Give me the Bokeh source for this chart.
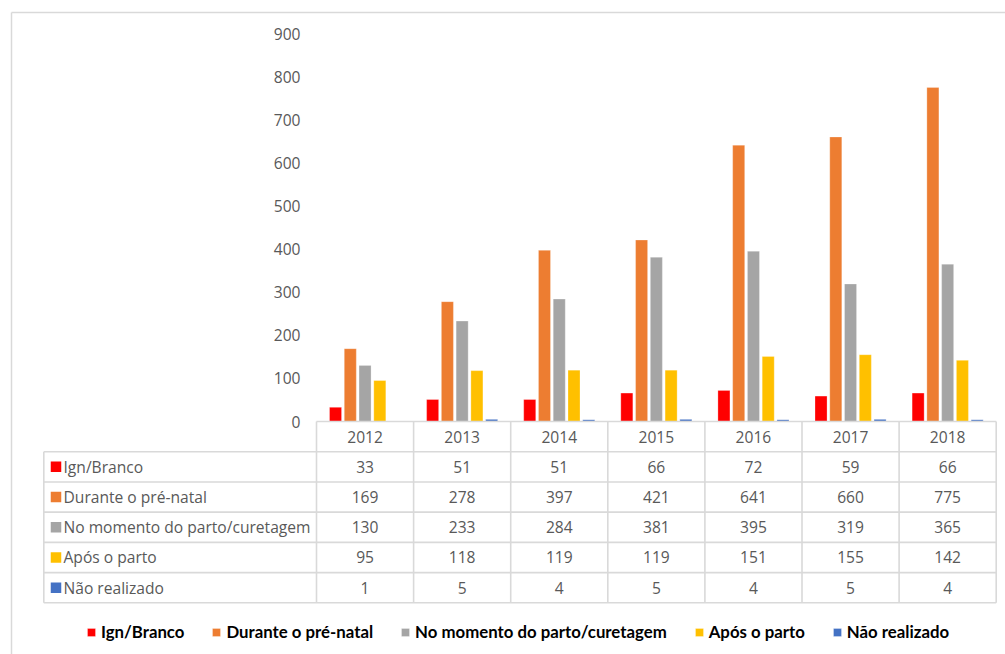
from bokeh.plotting import figure
from bokeh.models import Range1d, Legend, LegendItem
from bokeh.core.properties import value
from bokeh.embed import file_html
from bokeh.resources import INLINE

# ---------------- data ----------------
years = ["2012", "2013", "2014", "2015", "2016", "2017", "2018"]
series_names = ["Ign/Branco", "Durante o pré-natal", "No momento do parto/curetagem",
                "Após o parto", "Não realizado"]
ign_branco = [33, 51, 51, 66, 72, 59, 66]
durante_pre_natal = [169, 278, 397, 421, 641, 660, 775]
momento_parto = [130, 233, 284, 381, 395, 319, 365]
apos_parto = [95, 118, 119, 119, 151, 155, 142]
nao_realizado = [1, 5, 4, 5, 4, 5, 4]
y_ticks = [0, 100, 200, 300, 400, 500, 600, 700, 800, 900]

series_values = [ign_branco, durante_pre_natal, momento_parto, apos_parto, nao_realizado]
colors = ["#FF0000", "#ED7D31", "#A5A5A5", "#FFC000", "#4472C4"]

W, H = 1005, 654
PX_X = 97.1          # px per category
X0 = 316.0           # left px of first category
Y0 = 421.0           # px of value 0
PX_V = 388.0 / 900   # px per unit
ROW = 30.22          # table row height px

def xd(px):
    return (px - X0) / PX_X

def td(py):  # table row coordinate from pixel y
    return (py - Y0) / ROW

p = figure(width=W, height=H, output_backend="svg", toolbar_location=None,
           x_range=Range1d(xd(0), xd(W)),
           y_range=Range1d(-(H - Y0) / PX_V, Y0 / PX_V),
           x_axis_location=None, y_axis_location=None,
           min_border=0, min_border_left=0, min_border_right=0,
           min_border_top=0, min_border_bottom=0,
           outline_line_color=None)
p.extra_y_ranges = {"tbl": Range1d(td(H), td(0))}
p.xgrid.visible = False
p.ygrid.visible = False
p.background_fill_color = "white"
p.border_fill_color = "white"

grey_line = "#D9D9D9"
txt_col = "#595959"
FONT = "Open Sans"
FS = "15.6px"

# outer chart border (left and top)
p.segment(x0=[xd(11), xd(11)], y0=[td(12), td(12)], x1=[xd(11), xd(W + 5)], y1=[td(H + 5), td(12)],
          y_range_name="tbl", line_color=grey_line, line_width=1.5)

# ---------------- bars ----------------
bw = 0.124
step = 0.152
renderers = []
for j, (name, vals, col) in enumerate(zip(series_names, series_values, colors)):
    xs = [i + 0.5 + (j - 2) * step for i in range(len(years))]
    r = p.vbar(x=xs, top=vals, bottom=0, width=bw, fill_color=col,
               line_color="white", line_alpha=0.35, line_width=0.8)
    renderers.append(r)

# y tick labels
p.text(x=[xd(300)] * len(y_ticks), y=y_ticks, text=[str(t) for t in y_ticks],
       text_align="right", text_baseline="middle", text_font=value(FONT),
       text_font_size=FS, text_color=txt_col)

# ---------------- data table ----------------
n = len(years)
# horizontal lines
hx0 = [0] + [xd(43.3)] * 6
hx1 = [n] * 7
hy = [0, 1, 2, 3, 4, 5, 6]
p.segment(x0=hx0, y0=hy, x1=hx1, y1=hy, y_range_name="tbl",
          line_color=grey_line, line_width=1.6)
# vertical lines
vx = [xd(43.3)] + list(range(n + 1))
vy0 = [1] + [0] * (n + 1)
vy1 = [6] * (n + 2)
p.segment(x0=vx, y0=vy0, x1=vx, y1=vy1, y_range_name="tbl",
          line_color=grey_line, line_width=1.6)

# header years
p.text(x=[i + 0.5 for i in range(n)], y=[0.5] * n, text=years, y_range_name="tbl",
       text_align="center", text_baseline="middle", text_font=value(FONT),
       text_font_size=FS, text_color=txt_col)

for j, (name, vals, col) in enumerate(zip(series_names, series_values, colors)):
    ry = j + 1.5
    p.scatter(x=[xd(55.5)], y=[ry], marker="square", size=10.5, fill_color=col,
              line_color=None, y_range_name="tbl")
    p.text(x=[xd(63)], y=[ry], text=[name], y_range_name="tbl",
           text_align="left", text_baseline="middle", text_font=value(FONT),
           text_font_size=FS, text_color=txt_col)
    p.text(x=[i + 0.5 for i in range(n)], y=[ry] * n, text=[str(v) for v in vals],
           y_range_name="tbl", text_align="center", text_baseline="middle",
           text_font=value(FONT), text_font_size=FS, text_color=txt_col)

# ---------------- legend ----------------
legend = Legend(items=[LegendItem(label=nm, renderers=[r]) for nm, r in zip(series_names, renderers)],
                orientation="horizontal", location=(86, 12),
                padding=0, margin=0, spacing=27, label_standoff=5,
                glyph_width=10, glyph_height=10, label_height=20,
                border_line_color=None, background_fill_alpha=0,
                label_text_font="Lato", label_text_font_style="bold",
                label_text_font_size="16.8px", label_text_color="#000000")
p.add_layout(legend)

open("out.html", "w").write(file_html(p, INLINE))
